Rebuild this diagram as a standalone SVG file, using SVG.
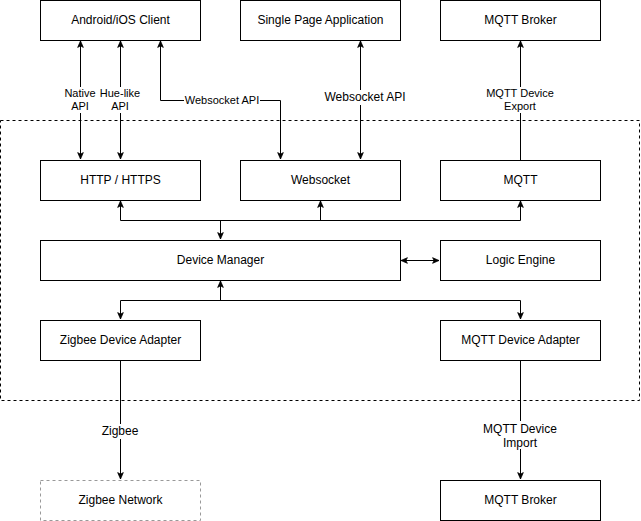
<svg xmlns="http://www.w3.org/2000/svg" width="641" height="521" viewBox="0 0 641 521">
<defs>
<marker id="ah" viewBox="0 0 10 10" refX="9" refY="5" markerWidth="8" markerHeight="8" markerUnits="userSpaceOnUse" orient="auto-start-reverse">
<path d="M1,1.5 L9,5 L1,8.5 L3,5 Z" fill="#000" stroke="#000" stroke-width="1"/>
</marker>
<style>
.box{fill:#fff;stroke:#000;stroke-width:1}
.t{font-family:"Liberation Sans",Arial,Helvetica,sans-serif;font-size:12px;fill:#000;text-anchor:middle;dominant-baseline:central}
.l{font-family:"Liberation Sans",Arial,Helvetica,sans-serif;font-size:11px;fill:#000;text-anchor:middle;dominant-baseline:central}
.c{fill:none;stroke:#000;stroke-width:1}
.lb{fill:#fff}
</style>
</defs>
<rect width="641" height="521" fill="#fff"/>
<rect id="container" x="0.5" y="120.5" width="639" height="280" fill="none" stroke="#000" stroke-dasharray="3,3"/>
<g id="connectors">
<path class="c" d="M80.5,41 V159" marker-start="url(#ah)" marker-end="url(#ah)"/>
<path class="c" d="M120.5,41 V159" marker-start="url(#ah)" marker-end="url(#ah)"/>
<path class="c" d="M160.5,41 V100.5 H280.5 V159" marker-start="url(#ah)" marker-end="url(#ah)"/>
<path class="c" d="M360.5,41 V159" marker-start="url(#ah)" marker-end="url(#ah)"/>
<path class="c" d="M520.5,160 V41" marker-end="url(#ah)"/>
<path class="c" d="M220.5,239 V220.5"  marker-start="url(#ah)"/>
<path class="c" d="M120.5,201 V220.5 H520.5 V201" marker-start="url(#ah)" marker-end="url(#ah)"/>
<path class="c" d="M320.5,220.5 V201" marker-end="url(#ah)"/>
<path class="c" d="M401,260.5 H439" marker-start="url(#ah)" marker-end="url(#ah)"/>
<path class="c" d="M220.5,281 V300.5" marker-start="url(#ah)"/>
<path class="c" d="M120.5,319 V300.5 H520.5 V319" marker-start="url(#ah)" marker-end="url(#ah)"/>
<path class="c" d="M120.5,360 V479" marker-end="url(#ah)"/>
<path class="c" d="M520.5,360 V479" marker-end="url(#ah)"/>
<g id="labels">
<rect class="lb" x="63" y="87" width="35" height="26"/>
<text class="l" x="80" y="93">Native</text><text class="l" x="80" y="106">API</text>
<rect class="lb" x="100" y="87" width="41" height="26"/>
<text class="l" x="120" y="93">Hue-like</text><text class="l" x="120" y="106">API</text>
<rect class="lb" x="184" y="93" width="76" height="14"/>
<text class="l" x="222" y="100">Websocket API</text>
<rect class="lb" x="323" y="90" width="84" height="15"/>
<text class="t" x="365" y="97">Websocket API</text>
<rect class="lb" x="485" y="87" width="70" height="26"/>
<text class="l" x="520" y="93">MQTT Device</text><text class="l" x="520" y="106">Export</text>
<rect class="lb" x="100" y="424" width="40" height="15"/>
<text class="t" x="120" y="431">Zigbee</text>
<rect class="lb" x="482" y="421" width="76" height="28"/>
<text class="t" x="520" y="429">MQTT Device</text><text class="t" x="520" y="443">Import</text>
</g>
</g>
<g id="android"><rect class="box" x="40.5" y="0.5" width="160" height="40"/><text class="t" x="120.5" y="20">Android/iOS Client</text></g>
<g id="spa"><rect class="box" x="240.5" y="0.5" width="160" height="40"/><text class="t" x="320.5" y="20">Single Page Application</text></g>
<g id="broker-top"><rect class="box" x="440.5" y="0.5" width="160" height="40"/><text class="t" x="520.5" y="20">MQTT Broker</text></g>
<g id="http"><rect class="box" x="40.5" y="160.5" width="160" height="40"/><text class="t" x="120.5" y="180">HTTP / HTTPS</text></g>
<g id="websocket"><rect class="box" x="240.5" y="160.5" width="160" height="40"/><text class="t" x="320.5" y="180">Websocket</text></g>
<g id="mqtt"><rect class="box" x="440.5" y="160.5" width="160" height="40"/><text class="t" x="520.5" y="180">MQTT</text></g>
<g id="device-manager"><rect class="box" x="40.5" y="240.5" width="360" height="40"/><text class="t" x="220.5" y="260">Device Manager</text></g>
<g id="logic-engine"><rect class="box" x="440.5" y="240.5" width="160" height="40"/><text class="t" x="520.5" y="260">Logic Engine</text></g>
<g id="zigbee-adapter"><rect class="box" x="40.5" y="320.5" width="160" height="40"/><text class="t" x="120.5" y="340">Zigbee Device Adapter</text></g>
<g id="mqtt-adapter"><rect class="box" x="440.5" y="320.5" width="160" height="40"/><text class="t" x="520.5" y="340">MQTT Device Adapter</text></g>
<g id="zigbee-network"><rect x="40.5" y="480.5" width="160" height="40" fill="#fff" stroke="#999" stroke-dasharray="3,3"/><text class="t" x="120.5" y="500">Zigbee Network</text></g>
<g id="broker-bottom"><rect class="box" x="440.5" y="480.5" width="160" height="40"/><text class="t" x="520.5" y="500">MQTT Broker</text></g>
</svg>
